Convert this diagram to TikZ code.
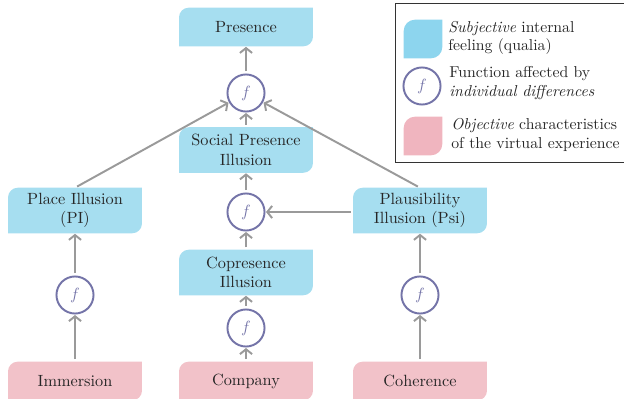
\documentclass[tikz,border=0pt]{standalone}
\usepackage{tikz}
\usetikzlibrary{calc}
\usetikzlibrary{backgrounds}
\usetikzlibrary{arrows.meta}

\definecolor{qualia}{HTML}{A6DEF0}
\definecolor{objective}{HTML}{F2C2C9}
\definecolor{keyqualia}{HTML}{8DD5EE}
\definecolor{keyobjective}{HTML}{F0B5BF}
\definecolor{fnring}{HTML}{7474A8}
\definecolor{linkgray}{HTML}{9A9A9A}

\tikzset{
  quale/.style={minimum width=82pt, minimum height=23.4pt, inner sep=2pt, align=center, text=black!85},
  twoline/.style={minimum height=27.6pt},
  fn/.style={circle, draw=fnring, line width=1.2pt, minimum size=22.8pt, inner sep=0pt, text=fnring},
  link/.style={draw=linkgray, line width=1.2pt, -{Straight Barb[length=3pt,width=7.5pt]}, shorten <=1.5pt, shorten >=0.3pt},
  keytext/.style={anchor=west, align=left, inner sep=0pt, text=black!85, font=\fontsize{9.7pt}{11.4pt}\selectfont},
}

\begin{document}
\begin{tikzpicture}[x=0.615pt, y=0.615pt]
            \useasboundingbox (0,0) rectangle (624,398);
            \clip (0,0) rectangle (624,398);

            % Qualia and objective boxes
            \node[quale] (pres) at (246,371) {Presence};
            \node[quale, twoline] (social) at (246,248) {Social Presence\\Illusion};
            \node[quale, twoline] (copres) at (246,125.5) {Copresence\\Illusion};
            \node[quale, twoline] (pi) at (75,187.5) {Place Illusion\\(PI)};
            \node[quale, twoline] (psi) at (420,187.5) {Plausibility\\Illusion (Psi)};
            \node[quale] (immersion) at (75,17) {Immersion};
            \node[quale] (company) at (246,17) {Company};
            \node[quale] (coherence) at (420,17) {Coherence};

            % Functions
            \node[fn] (fTop) at (246,305) {$f$};
            \node[fn] (fMid) at (246,186) {$f$};
            \node[fn] (fLow) at (246,70) {$f$};
            \node[fn] (fLeft) at (75,103) {$f$};
            \node[fn] (fRight) at (420,103) {$f$};

            % Connections
            \draw[link] (immersion) -- (fLeft);
            \draw[link] (fLeft) -- (pi);
            \draw[link] (company) -- (fLow);
            \draw[link] (fLow) -- (copres);
            \draw[link] (coherence) -- (fRight);
            \draw[link] (fRight) -- (psi);
            \draw[link] (copres) -- (fMid);
            \draw[link] (psi.west |- fMid) -- (fMid.east);
            \draw[link] (fMid) -- (social);
            \draw[link] (social) -- (fTop);
            \draw[link] (pi.north) -- (fTop);
            \draw[link] (psi.north) -- (fTop);
            \draw[link] (fTop) -- (pres);

            % Legend
            \draw[black!80, line width=0.6pt] (395,395) rectangle (640,236);
            \node[minimum size=23.4pt, inner sep=0pt] (keyQualia) at (423,359) {};
            \node[keytext] (keyQualiaText) at (448,360) {\textit{Subjective} internal\\feeling (qualia)};
            \node[fn] (keyFn) at (422,312) {$f$};
            \node[keytext] (keyFnText) at (449,315) {Function affected by\\\textit{individual differences}};
            \node[minimum size=23.4pt, inner sep=0pt] (keyObjective) at (423,262) {};
            \node[keytext] (keyObjectiveText) at (451,263) {\textit{Objective} characteristics\\of the virtual experience};

            % Box fills, rounded at top left and bottom right
            \begin{scope}[on background layer]
              \foreach \n/\c/\r in {pres/qualia/6pt, social/qualia/6pt, copres/qualia/6pt, pi/qualia/6pt, psi/qualia/6pt,
                                    immersion/objective/6pt, company/objective/6pt, coherence/objective/6pt,
                                    keyQualia/keyqualia/7pt, keyObjective/keyobjective/7pt}
                \fill[\c] (\n.south west) -- ($(\n.south east)+(-\r,0)$) arc[start angle=-90, end angle=0, radius=\r]
                  -- (\n.north east) -- ($(\n.north west)+(\r,0)$) arc[start angle=90, end angle=180, radius=\r] -- cycle;
            \end{scope}

        \end{tikzpicture}
\end{document}
